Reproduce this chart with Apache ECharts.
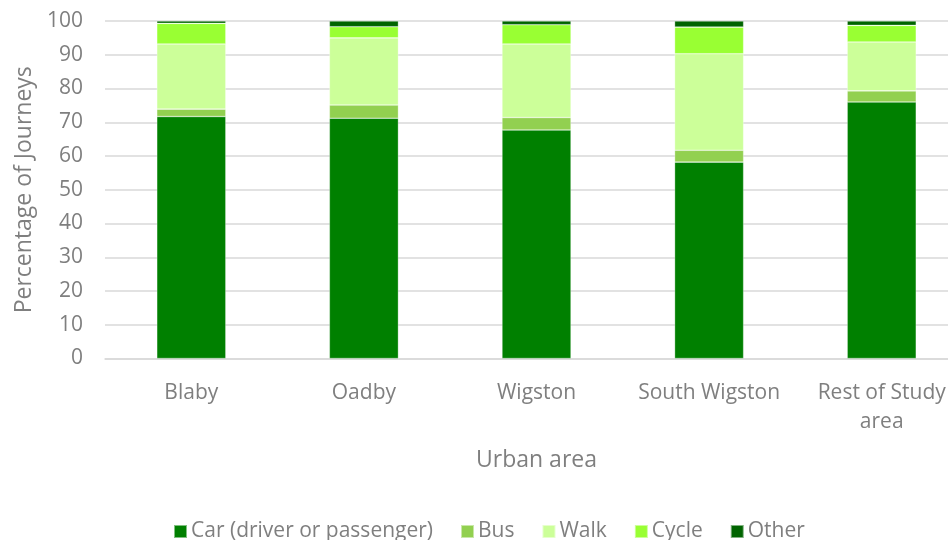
<!DOCTYPE html>
<html><head><meta charset="utf-8">
<script src="https://cdn.jsdelivr.net/npm/echarts@6/dist/echarts.min.js"></script>
<style>html,body{margin:0;padding:0;background:#fff;overflow:hidden;width:948px;height:540px}#c{width:968px;height:540px}</style>
</head><body><div id="c"></div>
<script>
const categories = ['Blaby', 'Oadby', 'Wigston', 'South Wigston', 'Rest of Study\narea'];
const car = [71.7, 71.2, 67.7, 58.2, 76.0];
const bus = [2.2, 3.9, 3.7, 3.5, 3.3];
const walk = [19.3, 19.9, 21.8, 28.6, 14.5];
const cycle = [6.1, 3.3, 5.7, 7.9, 4.9];
const other = [0.7, 1.7, 1.1, 1.8, 1.3];
const yTicks = [0, 10, 20, 30, 40, 50, 60, 70, 80, 90, 100];

const FONT = 'Open Sans';
const GREY = '#7f7f7f';
const mk = (name, data, color) => ({
  name, type: 'bar', stack: 'total', data, barWidth: '40%',
  itemStyle: { color, borderColor: 'rgba(255,255,255,0.5)', borderWidth: 0.6 }
});
const chart = echarts.init(document.getElementById('c'), null, { renderer: 'canvas' });
chart.setOption({
  animation: false,
  textStyle: { fontFamily: FONT },
  grid: { left: 105, top: 21, right: 0, height: 337.5, containLabel: false, outerBoundsMode: 'none' },
  legend: {
    left: 173, top: 521, padding: 0, itemWidth: 13, itemHeight: 13, itemGap: 27,
    icon: 'rect',
    textStyle: { fontFamily: FONT, fontSize: 21, color: GREY, padding: [0, 0, 0, -1] }
  },
  xAxis: {
    type: 'category', data: categories,
    name: 'Urban area', nameLocation: 'middle', nameGap: 90,
    nameTextStyle: { fontFamily: FONT, fontSize: 23, color: GREY },
    axisLine: { lineStyle: { color: '#d9d9d9', width: 1.5 } },
    axisTick: { show: false },
    axisLabel: { fontFamily: FONT, fontSize: 21, color: GREY, margin: 20, lineHeight: 29, interval: 0 }
  },
  yAxis: {
    type: 'value', min: 0, max: 100, interval: 10,
    name: 'Percentage of Journeys', nameLocation: 'middle', nameGap: 68,
    nameTextStyle: { fontFamily: FONT, fontSize: 23, color: GREY },
    axisLine: { show: false }, axisTick: { show: false },
    axisLabel: { fontFamily: FONT, fontSize: 21, color: GREY, margin: 22,
      formatter: v => yTicks.includes(v) ? String(v) : '' },
    splitLine: { lineStyle: { color: '#d9d9d9', width: 1.5 } }
  },
  series: [
    mk('Car (driver or passenger)', car, '#008000'),
    mk('Bus', bus, '#92d050'),
    mk('Walk', walk, '#ccff99'),
    mk('Cycle', cycle, '#99ff33'),
    mk('Other', other, '#006400')
  ]
});
</script></body></html>
